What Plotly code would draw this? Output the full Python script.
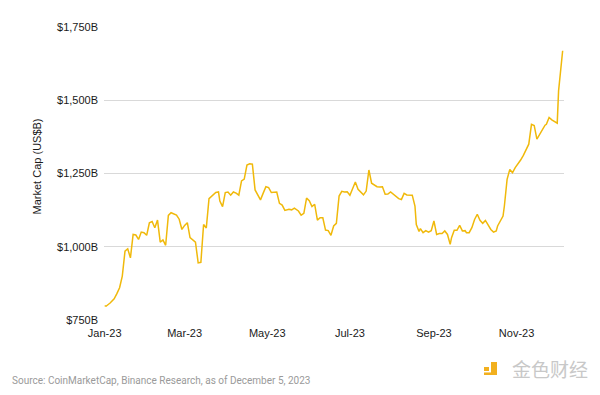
import plotly.graph_objects as go

dates = [
    "2023-01-01", "2023-01-02", "2023-01-05", "2023-01-08", "2023-01-10", "2023-01-12", "2023-01-14",
    "2023-01-16", "2023-01-18", "2023-01-20", "2023-01-22", "2023-01-24", "2023-01-26", "2023-01-28",
    "2023-01-30", "2023-02-01", "2023-02-03", "2023-02-05", "2023-02-07", "2023-02-09", "2023-02-11",
    "2023-02-13", "2023-02-15", "2023-02-17", "2023-02-19", "2023-02-21", "2023-02-23", "2023-02-25",
    "2023-02-27", "2023-03-01", "2023-03-03", "2023-03-05", "2023-03-07", "2023-03-09", "2023-03-11",
    "2023-03-13", "2023-03-15", "2023-03-17", "2023-03-19", "2023-03-22", "2023-03-24", "2023-03-26",
    "2023-03-27", "2023-03-29", "2023-03-31", "2023-04-02", "2023-04-04", "2023-04-06", "2023-04-08",
    "2023-04-10", "2023-04-12", "2023-04-14", "2023-04-16", "2023-04-18", "2023-04-20", "2023-04-22",
    "2023-04-24", "2023-04-26", "2023-04-28", "2023-04-30", "2023-05-02", "2023-05-04", "2023-05-08",
    "2023-05-10", "2023-05-12", "2023-05-14", "2023-05-17", "2023-05-19", "2023-05-21", "2023-05-24",
    "2023-05-26", "2023-05-28", "2023-05-30", "2023-06-01", "2023-06-03", "2023-06-05", "2023-06-07",
    "2023-06-09", "2023-06-11", "2023-06-13", "2023-06-15", "2023-06-17", "2023-06-19", "2023-06-21",
    "2023-06-23", "2023-06-25", "2023-06-27", "2023-06-29", "2023-07-01", "2023-07-03", "2023-07-05",
    "2023-07-07", "2023-07-09", "2023-07-11", "2023-07-13", "2023-07-15", "2023-07-17", "2023-07-19",
    "2023-07-21", "2023-07-23", "2023-07-25", "2023-07-27", "2023-07-29", "2023-07-31", "2023-08-02",
    "2023-08-04", "2023-08-06", "2023-08-08", "2023-08-10", "2023-08-12", "2023-08-14", "2023-08-16",
    "2023-08-18", "2023-08-19", "2023-08-21", "2023-08-22", "2023-08-24", "2023-08-26", "2023-08-28",
    "2023-08-30", "2023-09-01", "2023-09-03", "2023-09-05", "2023-09-07", "2023-09-09", "2023-09-11",
    "2023-09-13", "2023-09-14", "2023-09-16", "2023-09-18", "2023-09-20", "2023-09-22", "2023-09-24",
    "2023-09-25", "2023-09-27", "2023-09-29", "2023-10-01", "2023-10-03", "2023-10-05", "2023-10-07",
    "2023-10-09", "2023-10-11", "2023-10-13", "2023-10-15", "2023-10-17", "2023-10-18", "2023-10-20",
    "2023-10-22", "2023-10-23", "2023-10-25", "2023-10-27", "2023-10-29", "2023-10-31", "2023-11-02",
    "2023-11-04", "2023-11-06", "2023-11-08", "2023-11-10", "2023-11-12", "2023-11-14", "2023-11-16",
    "2023-11-18", "2023-11-20", "2023-11-22", "2023-11-23", "2023-11-25", "2023-11-27", "2023-11-29",
    "2023-12-01", "2023-12-02", "2023-12-03", "2023-12-04", "2023-12-05",
]

market_cap = [
    799, 797, 808, 822, 840, 860, 900,
    985, 993, 962, 1042, 1040, 1025, 1050,
    1048, 1039, 1082, 1086, 1065, 1091, 1016,
    1023, 1005, 1107, 1116, 1112, 1108, 1094,
    1059, 1073, 1082, 1031, 1025, 1016, 945,
    947, 1076, 1064, 1164, 1176, 1185, 1187,
    1156, 1137, 1185, 1187, 1176, 1187, 1183,
    1176, 1225, 1231, 1279, 1283, 1282, 1194,
    1174, 1160, 1183, 1205, 1202, 1185, 1187,
    1148, 1142, 1124, 1128, 1126, 1132, 1122,
    1108, 1114, 1166, 1157, 1137, 1145, 1091,
    1099, 1099, 1057, 1055, 1039, 1071, 1080,
    1173, 1189, 1187, 1188, 1176, 1202, 1221,
    1196, 1185, 1177, 1190, 1262, 1217, 1211,
    1205, 1204, 1205, 1179, 1180, 1187, 1179,
    1171, 1164, 1161, 1182, 1177, 1176, 1176,
    1139, 1076, 1052, 1062, 1048, 1055, 1050,
    1055, 1088, 1042, 1045, 1045, 1054, 1042,
    1008, 1031, 1056, 1056, 1073, 1054, 1055,
    1048, 1048, 1065, 1093, 1111, 1090, 1080,
    1090, 1076, 1059, 1050, 1054, 1071, 1089,
    1105, 1139, 1230, 1264, 1253, 1270, 1282,
    1296, 1312, 1333, 1350, 1418, 1414, 1367,
    1384, 1396, 1415, 1418, 1441, 1433, 1426,
    1422, 1532, 1572, 1612, 1669,
]

x_tick_vals = ["2023-01-01", "2023-03-01", "2023-05-01", "2023-07-01", "2023-09-01", "2023-11-01"]
x_tick_text = ["Jan-23", "Mar-23", "May-23", "Jul-23", "Sep-23", "Nov-23"]
y_tick_vals = [750, 1000, 1250, 1500, 1750]
y_tick_text = ["$750B", "$1,000B", "$1,250B", "$1,500B", "$1,750B"]

LINE_COLOR = "#F0B90B"
FONT = "Liberation Sans, Arial, sans-serif"

fig = go.Figure()
fig.add_trace(go.Scatter(
    x=dates, y=market_cap, mode="lines",
    line=dict(color=LINE_COLOR, width=1.5),
    hoverinfo="skip", showlegend=False,
))

fig.update_layout(
    width=600, height=395,
    margin=dict(l=104, r=36, t=27, b=75, autoexpand=False),
    paper_bgcolor="white", plot_bgcolor="white",
    font=dict(family=FONT, size=11, color="#1a1a1a"),
    showlegend=False,
)
fig.update_xaxes(
    type="date", automargin=False,
    range=["2022-12-31 12:00", "2023-12-06 00:00"],
    tickmode="array", tickvals=x_tick_vals, ticktext=x_tick_text,
    showgrid=False, zeroline=False, showline=False, ticks="",
    ticklabelstandoff=5,
    tickfont=dict(family=FONT, size=11, color="#1a1a1a"),
)
fig.update_yaxes(
    range=[750, 1750], automargin=False,
    tickmode="array", tickvals=y_tick_vals, ticktext=y_tick_text,
    showgrid=True, gridcolor="#d9d9d9", gridwidth=1,
    zeroline=False, showline=False, ticks="", ticklabelstandoff=5,
    tickfont=dict(family=FONT, size=11, color="#1a1a1a"),
)

fig.add_annotation(
    text="Market Cap (US$B)", textangle=-90,
    xref="paper", yref="paper", x=-0.1457, y=0.524,
    xanchor="center", yanchor="middle", showarrow=False,
    font=dict(family=FONT, size=11, color="#1a1a1a"),
)
fig.add_annotation(
    text="Source: CoinMarketCap, Binance Research, as of December 5, 2023",
    xref="paper", yref="paper", x=-0.2043, y=-0.2048,
    xanchor="left", yanchor="middle", showarrow=False,
    font=dict(family="Roboto, sans-serif", size=10, color="#9a9a9a"),
)
fig.add_annotation(
    text="金色财经",
    xref="paper", yref="paper", x=0.8826, y=-0.1672,
    xanchor="left", yanchor="middle", showarrow=False,
    font=dict(family="Noto Sans CJK SC", size=19, color="#c8c8c8"),
)
# logo glyph
LOGO = "#F2B01E"
fig.add_shape(type="rect", xref="paper", yref="paper", x0=0.8261, x1=0.8370, y0=-0.1604, y1=-0.1740,
              fillcolor=LOGO, line_width=0)
fig.add_shape(type="rect", xref="paper", yref="paper", x0=0.8413, x1=0.8543, y0=-0.1433, y1=-0.1877,
              fillcolor=LOGO, line_width=0)
fig.add_shape(type="rect", xref="paper", yref="paper", x0=0.8261, x1=0.8543, y0=-0.1790, y1=-0.1877,
              fillcolor=LOGO, line_width=0)

fig.write_html("out.html", config={"displayModeBar": False, "staticPlot": True},
               post_script="document.body.style.margin='0';")
